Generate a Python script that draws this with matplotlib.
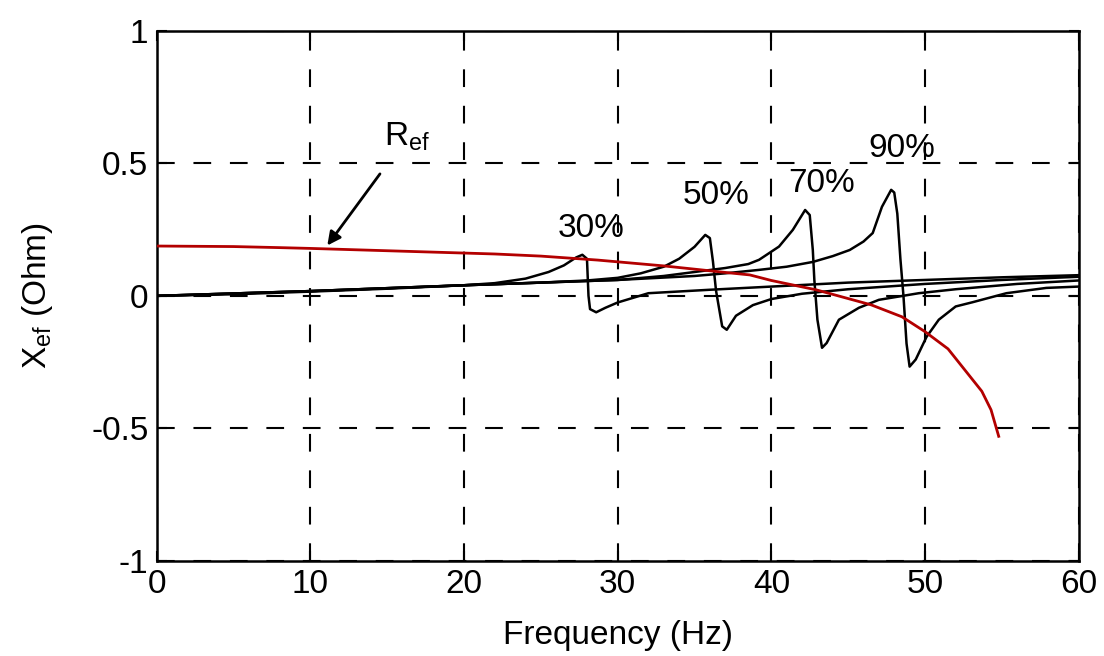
import matplotlib
matplotlib.use("Agg")
from matplotlib import pyplot as plt

plt.rcParams['font.family'] = ['Liberation Sans', 'DejaVu Sans']

# Effective resistance (red)
freqR = [0, 5, 8, 10, 14, 18, 22, 25, 28.7, 33, 37.4, 38.6, 40, 42.9, 46.5, 48.5,
         50, 51.5, 52.6, 53.7, 54.3, 54.8]
resR = [0.188, 0.186, 0.182, 0.179, 0.172, 0.165, 0.158, 0.150, 0.135, 0.113, 0.086,
        0.079, 0.058, 0.023, -0.034, -0.079, -0.135, -0.200, -0.280, -0.360, -0.430, -0.530]

# Effective reactance for the four load levels
freq30 = [0, 5, 10, 15, 20, 22, 24, 25.5, 26.5, 27.3, 27.7, 28.0, 28.1, 28.2, 28.6,
          29.2, 30, 32, 36, 40, 45, 50, 55, 60]
reac30 = [0.0, 0.006, 0.016, 0.027, 0.040, 0.048, 0.065, 0.090, 0.115, 0.145, 0.155,
          0.140, 0.000, -0.050, -0.062, -0.045, -0.025, 0.010, 0.023, 0.035, 0.050,
          0.060, 0.070, 0.078]

freq50 = [0, 10, 20, 25, 28, 30, 31.5, 33, 34, 35, 35.7, 36.0, 36.2, 36.4, 36.8, 37.1,
          37.7, 38.8, 40, 42, 45, 50, 55, 60]
reac50 = [0.0, 0.018, 0.040, 0.050, 0.058, 0.068, 0.085, 0.110, 0.140, 0.185, 0.230,
          0.218, 0.130, 0.020, -0.115, -0.128, -0.075, -0.035, -0.012, 0.008, 0.025,
          0.045, 0.060, 0.072]

freq70 = [0, 10, 20, 25, 30, 33, 35, 37, 38.5, 39.2, 40.5, 41.4, 42.2, 42.5, 42.7,
          42.8, 43.0, 43.3, 43.6, 44.4, 45.7, 47.0, 49.6, 52, 56, 60]
reac70 = [0.0, 0.018, 0.040, 0.050, 0.060, 0.075, 0.090, 0.105, 0.120, 0.136, 0.186,
          0.249, 0.324, 0.305, 0.173, 0.060, -0.090, -0.196, -0.178, -0.090, -0.045,
          -0.015, 0.010, 0.025, 0.045, 0.058]

freq90 = [0, 10, 20, 25, 30, 35, 37, 39.2, 41, 42.7, 44, 45.1, 46, 46.6, 47.2, 47.8,
          48.0, 48.2, 48.4, 48.6, 48.8, 49.0, 49.4, 50.1, 50.9, 52.0, 53.1, 55.3,
          57.9, 60]
reac90 = [0.0, 0.018, 0.040, 0.050, 0.060, 0.075, 0.085, 0.098, 0.110, 0.128, 0.150,
          0.173, 0.205, 0.237, 0.336, 0.400, 0.390, 0.310, 0.140, 0.000, -0.180,
          -0.267, -0.240, -0.155, -0.090, -0.040, -0.024, 0.010, 0.030, 0.035]

loadLabels = ["30%", "50%", "70%", "90%"]
labelPos = [(28.3, 0.255), (36.4, 0.38), (43.3, 0.425), (48.5, 0.555)]

fig = plt.figure(figsize=(11.04, 6.56), dpi=100)
ax = fig.add_axes([0.142, 0.145, 0.835, 0.808])

# Reactance curves
for f, x in [(freq30, reac30), (freq50, reac50), (freq70, reac70), (freq90, reac90)]:
    ax.plot(f, x, color="black", linewidth=1.8, zorder=3)
# Resistance curve
ax.plot(freqR, resR, color="#b30000", linewidth=2.0, zorder=4)

for text, (x, y) in zip(loadLabels, labelPos):
    ax.text(x, y, text, fontsize=24, ha="center", va="center")

# Annotation pointing at the resistance curve
ax.annotate(r"R$_{\mathregular{ef}}$", xy=(11.1, 0.19), xytext=(16.3, 0.6),
            fontsize=24, ha="center", va="center",
            arrowprops=dict(arrowstyle="-|>", color="black", lw=2.0,
                            mutation_scale=20, shrinkA=16, shrinkB=0))

ax.set_xlim(0, 60)
ax.set_ylim(-1, 1)
ax.set_xticks([0, 10, 20, 30, 40, 50, 60])
ax.set_yticks([-1, -0.5, 0, 0.5, 1])
ax.set_yticklabels(["-1", "-0.5", "0", "0.5", "1"])
ax.grid(True, color="black", linestyle=(0, (8.5, 9)), linewidth=1.5)
ax.tick_params(direction="in", length=7, width=1.5, labelsize=24,
               top=True, right=True, pad=6)
for s in ax.spines.values():
    s.set_linewidth(1.8)

ax.set_xlabel("Frequency (Hz)", fontsize=24, labelpad=14)
ax.set_ylabel(r"X$_{\mathregular{ef}}$ (Ohm)", fontsize=24, labelpad=26)

fig.savefig("out.png", dpi=100)
